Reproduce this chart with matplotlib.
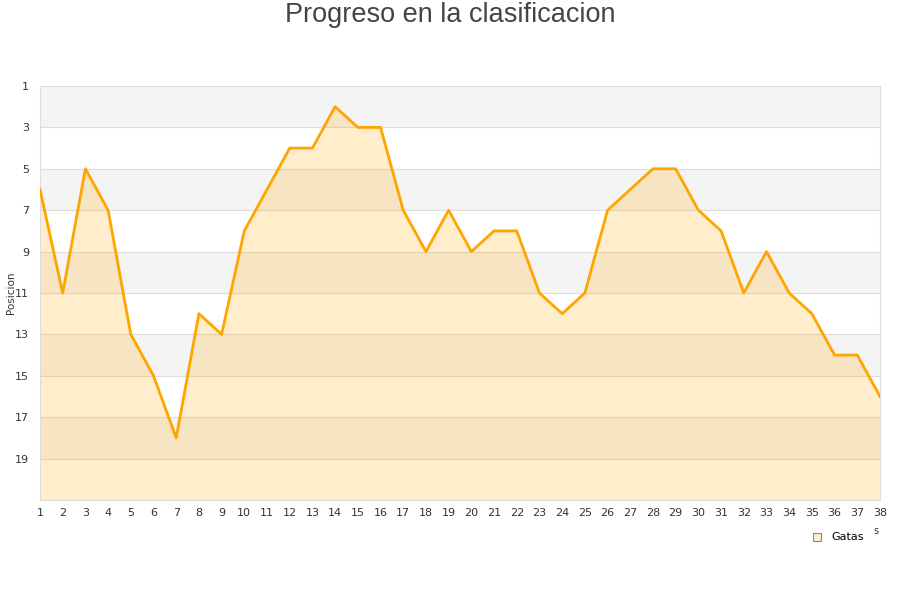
import matplotlib
matplotlib.use("Agg")
import matplotlib.pyplot as plt
from matplotlib.patches import Rectangle

# jornadas y posicion de Gatas
jornadas = list(range(1, 39))
posiciones = [6, 11, 5, 7, 13, 15, 18, 12, 13, 8,
              6, 4, 4, 2, 3, 3, 7, 9, 7, 9,
              8, 8, 11, 12, 11, 7, 6, 5, 5, 7,
              8, 11, 9, 11, 12, 14, 14, 16]
y_ticks = list(range(1, 20, 2))
serie = "Gatas"
titulo = "Progreso en la clasificacion"

fig = plt.figure(figsize=(9, 6), dpi=100)
ax = fig.add_axes([40 / 900, 100 / 600, 840 / 900, 414 / 600])

ax.set_xlim(1, 38)
ax.set_ylim(21, 1)

# alternating bands
for i, t in enumerate(y_ticks):
    if i % 2 == 0:
        ax.axhspan(t, t + 2, color="#f4f4f4", zorder=0, lw=0)
for t in y_ticks[1:]:
    ax.axhline(t, color="#dddddd", lw=0.8, zorder=1)

ax.fill_between(jornadas, posiciones, 21, color="#ffa500", alpha=0.2, lw=0, zorder=2)
ax.plot(jornadas, posiciones, color="#ffa500", lw=2.0, zorder=3)

ax.set_yticks(y_ticks)
ax.set_xticks(jornadas)
ax.tick_params(axis="both", length=0, labelsize=8, colors="#333333")
ax.tick_params(axis="x", pad=6)
ax.tick_params(axis="y", pad=8)
for s in ["left", "right", "top", "bottom"]:
    ax.spines[s].set_color("#dddddd")
    ax.spines[s].set_linewidth(0.8)

fig.text(11 / 900, 1 - 293 / 600, "Posicion", rotation=90, ha="center", va="center",
         fontsize=7.5, color="#333333")

fig.text(0.5, 1 - 15 / 600, titulo, ha="center", va="center", fontsize=19.5,
         family="Liberation Sans", color="#444444")

# legend
fig.patches.append(Rectangle((813 / 900, 1 - 541 / 600), 8 / 900, 8 / 600,
                             transform=fig.transFigure, facecolor="#ffedcc",
                             edgecolor="#888888", lw=0.8))
fig.text(831 / 900, 1 - 537 / 600, serie, ha="left", va="center", fontsize=8, color="#000000")
fig.text(876 / 900, 1 - 531 / 600, "s", ha="center", va="center", fontsize=7, color="#333333")

fig.savefig("out.png", dpi=100, facecolor="white")
